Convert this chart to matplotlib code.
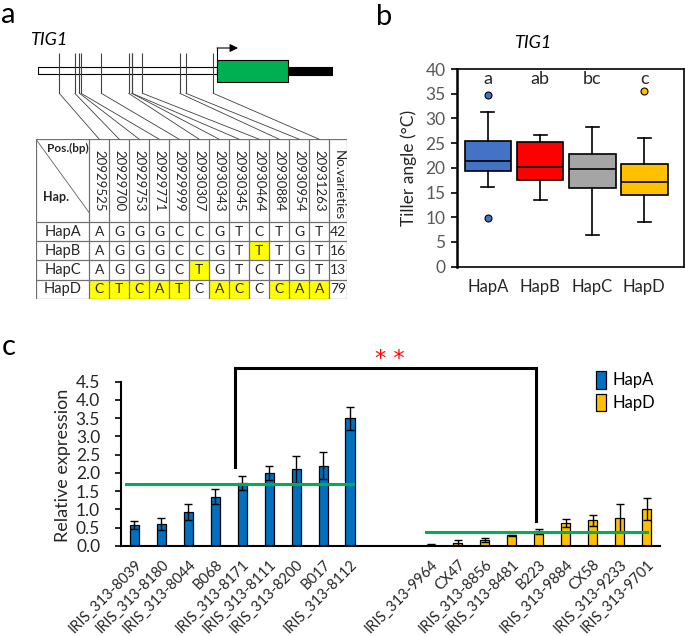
import numpy as np
import matplotlib
matplotlib.use('Agg')
import matplotlib.pyplot as plt
from matplotlib.patches import Rectangle, ConnectionPatch

plt.rcParams['font.family'] = ['Lato', 'DejaVu Sans']

# ---------------- panel a : gene model + haplotype table
snp_pos = [20929525, 20929700, 20929753, 20929771, 20929999, 20930307,
           20930343, 20930345, 20930464, 20930884, 20930954, 20931263]
haps = ['HapA', 'HapB', 'HapC', 'HapD']
hap_alleles = ['AGGGCCGTCTGT', 'AGGGCCGTTTGT', 'AGGGCTGTCTGT', 'CTCATCACCCAA']
n_varieties = [42, 16, 13, 79]
# gene model (bp)
promoter_start = 20929285
cds_start = 20931305
cds_end = 20932105
gene_end = 20932614
tss_arrow_end = 20931542

# ---------------- panel b : tiller angle boxplot
box_haps = ['HapA', 'HapB', 'HapC', 'HapD']
box_q1 = [19.3, 17.5, 15.9, 14.6]
box_med = [21.4, 20.1, 19.7, 17.2]
box_q3 = [25.5, 25.3, 22.8, 20.7]
box_lo = [16.2, 13.5, 6.4, 9.1]
box_hi = [31.2, 26.6, 28.3, 26.1]
box_out = [[34.7, 9.8], [], [], [35.6]]
box_letters = ['a', 'ab', 'bc', 'c']
box_colors = ['#4472C4', '#FF0000', '#A5A5A5', '#FFC000']

# ---------------- panel c : relative expression
hapA_lines = ['IRIS_313-8039', 'IRIS_313-8180', 'IRIS_313-8044', 'B068', 'IRIS_313-8171',
              'IRIS_313-8111', 'IRIS_313-8200', 'B017', 'IRIS_313-8112']
hapA_expr = [0.57, 0.60, 0.92, 1.35, 1.73, 2.00, 2.10, 2.20, 3.50]
hapA_err = [0.11, 0.16, 0.22, 0.21, 0.19, 0.20, 0.37, 0.37, 0.32]
hapD_lines = ['IRIS_313-9964', 'CX47', 'IRIS_313-8856', 'IRIS_313-8481', 'B223',
              'IRIS_313-9884', 'CX58', 'IRIS_313-9233', 'IRIS_313-9701']
hapD_expr = [0.04, 0.09, 0.16, 0.29, 0.40, 0.62, 0.70, 0.76, 1.01]
hapD_err = [0.02, 0.07, 0.06, 0.02, 0.06, 0.11, 0.16, 0.38, 0.31]
hapA_mean = 1.69
hapD_mean = 0.39

W, H = 685, 636
fig = plt.figure(figsize=(W / 100, H / 100), dpi=100)


def px_axes(x0, y0, x1, y1):
    return fig.add_axes([x0 / W, 1 - y1 / H, (x1 - x0) / W, (y1 - y0) / H])


# ===== panel a
ax_g = px_axes(38, 40, 333, 95)
ax_g.set_xlim(promoter_start, gene_end)
ax_g.set_ylim(-24.5, 30.5)
ax_g.axis('off')
ax_g.add_patch(Rectangle((promoter_start, -3.5), cds_start - promoter_start, 7,
                         fc='white', ec='black', lw=0.8))
ax_g.add_patch(Rectangle((cds_end, -4), gene_end - cds_end, 8, fc='black', ec='black', lw=0.8))
ax_g.add_patch(Rectangle((cds_start, -11), cds_end - cds_start, 22,
                         fc='#00B050', ec='black', lw=0.8, zorder=3))
ax_g.vlines(snp_pos, -22.8, 17.8, color='#404040', lw=0.8)
ax_g.plot([cds_start, cds_start], [11, 22.5], color='black', lw=0.8)
ax_g.annotate('', xy=(tss_arrow_end, 22.5), xytext=(cds_start, 22.5),
              arrowprops=dict(arrowstyle='-|>', color='black', lw=0.8,
                              mutation_scale=12, shrinkA=0, shrinkB=0))

ax_t = px_axes(36, 139.3, 346.7, 299)
ncol = len(snp_pos)
hdr_h = 4.29
ax_t.set_xlim(-2.667, ncol + 0.87)
ax_t.set_ylim(len(haps), -hdr_h)
ax_t.axis('off')
ref = hap_alleles[0]
for r, (h, al) in enumerate(zip(haps, hap_alleles)):
    for j, base in enumerate(al):
        if base != ref[j]:
            ax_t.add_patch(Rectangle((j, r), 1, 1, fc='#FFFF00', ec='none', zorder=0))
        ax_t.text(j + 0.5, r + 0.5, base, ha='center', va='center', fontsize=10, color='#262626')
    ax_t.text(-1.333, r + 0.5, h, ha='center', va='center', fontsize=10.5, color='#262626')
    ax_t.text(ncol + 0.45, r + 0.5, str(n_varieties[r]), ha='center', va='center',
              fontsize=10, color='#262626')
for j, p in enumerate(snp_pos):
    ax_t.text(j + 0.5, -hdr_h + 0.55, str(p), rotation=270, ha='center', va='top',
              fontsize=9.5, color='#262626')
ax_t.text(ncol + 0.45, -hdr_h + 0.55, 'No.varieties', rotation=270, ha='center', va='top',
          fontsize=9.5, color='#262626')
ax_t.text(-0.05, -hdr_h + 0.2, 'Pos.(bp)', ha='right', va='top', fontsize=8.5,
          fontweight='bold', color='#262626')
ax_t.text(-2.3, -1.3, 'Hap.', ha='left', va='center', fontsize=9,
          fontweight='bold', color='#262626')
ax_t.plot([-2.667, -0.02], [-hdr_h, -0.5], color='#606060', lw=0.6)
lc = '#707070'
ax_t.hlines([-hdr_h, 0, 1, 2, 3, 4], -2.667, ncol + 0.87, color=lc, lw=0.9)
ax_t.vlines([-2.667] + list(range(ncol + 1)) + [ncol + 0.87], -hdr_h, len(haps), color=lc, lw=0.9)

for j, p in enumerate(snp_pos):
    con = ConnectionPatch(xyA=(p, -22.8), coordsA=ax_g.transData,
                          xyB=(j + 0.5, -hdr_h), coordsB=ax_t.transData,
                          color='#404040', lw=0.6)
    fig.add_artist(con)

fig.text(30 / W, 1 - 40 / H, 'TIG1', fontsize=13, style='italic', va='center', ha='left')
fig.text(8 / W, 1 - 23 / H, 'a', fontsize=21, ha='center', va='baseline')

# ===== panel b
ax_b = px_axes(456.7, 69, 684.3, 266.7)
stats = []
for i in range(4):
    stats.append(dict(med=box_med[i], q1=box_q1[i], q3=box_q3[i], whislo=box_lo[i],
                      whishi=box_hi[i], fliers=box_out[i], label=box_haps[i]))
bp = ax_b.bxp(stats, positions=[1, 2, 3, 4], widths=0.9, capwidths=0.25, patch_artist=True,
              boxprops=dict(ec='black', lw=1.2),
              medianprops=dict(color='black', lw=1.2),
              whiskerprops=dict(color='black', lw=1.2),
              capprops=dict(color='black', lw=1.2),
              flierprops=dict(marker='o', ms=5, mec='black', mew=0.8))
for i, c in enumerate(box_colors):
    bp['boxes'][i].set_facecolor(c)
    bp['fliers'][i].set_markerfacecolor(c)
ax_b.set_xlim(0.4, 4.77)
ax_b.set_ylim(0, 40)
ax_b.set_yticks(np.arange(0, 41, 5))
ax_b.tick_params(axis='y', direction='out', length=4, width=1.2, labelsize=12.5,
                 labelcolor='#595959', pad=4)
ax_b.tick_params(axis='x', length=0, labelsize=12, labelcolor='#262626', pad=9)
for s in ax_b.spines.values():
    s.set_linewidth(1.2)
ax_b.spines['left'].set_linewidth(1.8)
for i, t in enumerate(box_letters):
    ax_b.text(i + 1, 38, t, ha='center', va='center', fontsize=13, color='#262626')
fig.text(533 / W, 1 - 43 / H, 'TIG1', fontsize=13, style='italic', ha='center', va='center')
fig.text(409 / W, 1 - 168 / H, 'Tiller angle (°C)', rotation=90, fontsize=12.5,
         ha='center', va='center', color='#262626')
fig.text(384 / W, 1 - 25 / H, 'b', fontsize=21, ha='center', va='baseline')

# ===== panel c
ax_c = px_axes(121, 381.7, 660, 546)
x_a = np.arange(len(hapA_expr))
x_d = np.arange(len(hapD_expr)) + len(hapA_expr) + 2
ekw = dict(lw=1.0, capthick=1.0, ecolor='black')
ba = ax_c.bar(x_a, hapA_expr, width=0.34, color='#0070C0', edgecolor='black', lw=0.9,
              yerr=hapA_err, capsize=3, error_kw=ekw, label='HapA')
bd = ax_c.bar(x_d, hapD_expr, width=0.34, color='#FFC000', edgecolor='black', lw=0.9,
              yerr=hapD_err, capsize=3, error_kw=ekw, label='HapD')
ax_c.plot([x_a[0] - 0.3, x_a[-1] + 0.1], [hapA_mean, hapA_mean], color='#00B050', lw=2.2, zorder=4)
ax_c.plot([x_d[0] - 0.2, x_d[-1]], [hapD_mean, hapD_mean], color='#00B050', lw=2.2, zorder=4)

# significance bracket between group representatives
ia, idd = 4, 4
top = 4.87
ax_c.plot([x_a[ia] - 0.28, x_a[ia] - 0.28, x_d[idd] - 0.1, x_d[idd] - 0.1],
          [hapA_expr[ia] + hapA_err[ia] + 0.24, top, top, hapD_expr[idd] + hapD_err[idd] + 0.22],
          color='black', lw=2.2, clip_on=False, solid_joinstyle='miter')
ax_c.text((x_a[-1] + x_d[0]) / 2 - 0.03, 4.95, '* *', color='#FF0000', fontsize=16,
          family='DejaVu Sans', ha='center', va='baseline', clip_on=False)

ax_c.set_xlim(-0.5, x_d[-1] + 0.5)
ax_c.set_ylim(0, 4.5)
ax_c.set_yticks(np.arange(0, 4.51, 0.5))
ax_c.set_yticklabels(['%.1f' % v for v in np.arange(0, 4.51, 0.5)])
ax_c.set_xticks(list(x_a) + list(x_d))
ax_c.set_xticklabels(hapA_lines + hapD_lines, rotation=45, ha='right', rotation_mode='anchor')
ax_c.tick_params(axis='x', length=0, labelsize=10.5, labelcolor='#262626', pad=8)
ax_c.tick_params(axis='y', direction='out', length=4, width=1.2, labelsize=12.5,
                 labelcolor='#262626', pad=11)
ax_c.spines['top'].set_visible(False)
ax_c.spines['right'].set_visible(False)
ax_c.spines['left'].set_linewidth(1.5)
ax_c.spines['bottom'].set_linewidth(1.5)
ax_c.legend(handles=[ba, bd], loc='upper left', bbox_to_anchor=(0.881, 1.065), borderaxespad=0,
            borderpad=0, frameon=False, fontsize=12, handlelength=0.6, handleheight=1.26,
            labelspacing=0.3, handletextpad=0.4)
fig.text(63 / W, 1 - 465 / H, 'Relative expression', rotation=90, fontsize=13,
         ha='center', va='center', color='#262626')
fig.text(9 / W, 1 - 355 / H, 'c', fontsize=21, ha='center', va='baseline')

fig.savefig('out.png', dpi=100)
